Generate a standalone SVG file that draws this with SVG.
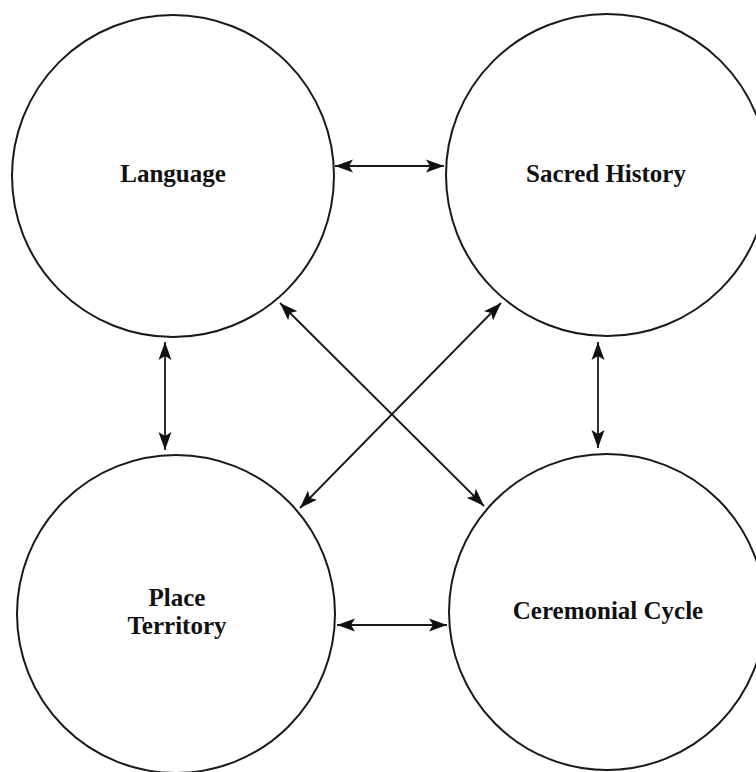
<svg xmlns="http://www.w3.org/2000/svg" width="756" height="772" viewBox="0 0 756 772">
<style>
.node circle{fill:#fff;stroke:#1a1a1a;stroke-width:2}
.node text{font-family:"Liberation Serif","Times New Roman",serif;font-weight:bold;font-size:25px;fill:#111;text-anchor:middle}
.edge{stroke:#1a1a1a;stroke-width:1.8;fill:none;marker-start:url(#ah);marker-end:url(#ah)}
</style>
<defs>
<marker id="ah" viewBox="0 0 18 14" refX="18" refY="7" markerWidth="18" markerHeight="14" markerUnits="userSpaceOnUse" orient="auto-start-reverse">
<path d="M0,0.5 L18,7 L0,13.5 L4,7 z" fill="#111"/>
</marker>
</defs>
<rect width="756" height="772" fill="#fff"/>
<g id="node-language" class="node">
<circle cx="173" cy="176" r="161"/>
<text x="173" y="182">Language</text>
</g>
<g id="node-sacred-history" class="node">
<circle cx="607" cy="175" r="161"/>
<text x="606" y="182">Sacred History</text>
</g>
<g id="node-place-territory" class="node">
<circle cx="176" cy="614" r="159"/>
<text x="177" y="606">Place</text>
<text x="177" y="634">Territory</text>
</g>
<g id="node-ceremonial-cycle" class="node">
<circle cx="607" cy="612" r="158"/>
<text x="608" y="619">Ceremonial Cycle</text>
</g>
<g id="connectors">
<line class="edge" x1="335" y1="166" x2="444" y2="166"/>
<line class="edge" x1="165" y1="342" x2="165" y2="450"/>
<line class="edge" x1="598" y1="342" x2="598" y2="448"/>
<line class="edge" x1="337" y1="625" x2="447" y2="625"/>
<line class="edge" x1="280" y1="303" x2="484" y2="506"/>
<line class="edge" x1="501" y1="303" x2="300" y2="508"/>
</g>
</svg>
